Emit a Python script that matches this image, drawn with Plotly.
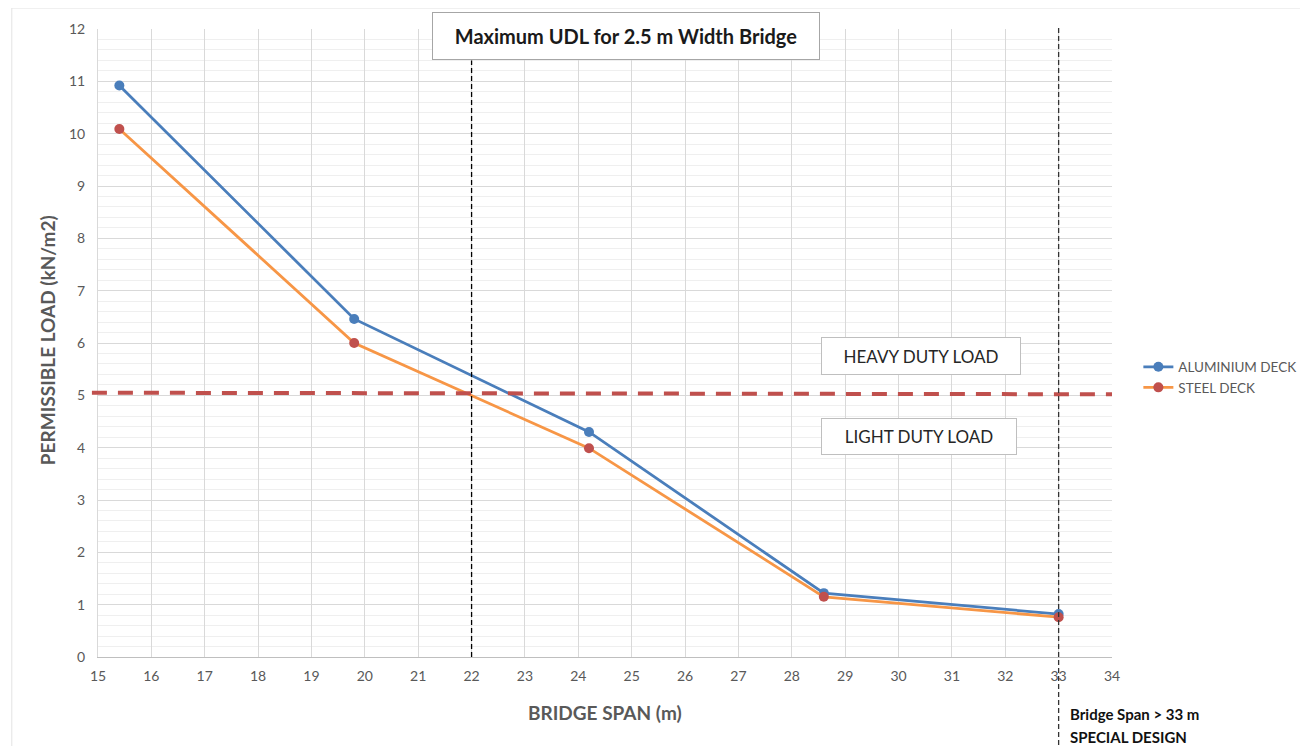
import plotly.graph_objects as go

# ---- data ----
span = [15.4, 19.8, 24.2, 28.6, 33.0]
aluminium = [10.92, 6.46, 4.30, 1.22, 0.82]
steel = [10.09, 6.00, 3.99, 1.15, 0.76]
series_names = ["ALUMINIUM DECK", "STEEL DECK"]
x_ticks = list(range(15, 35))
y_ticks = list(range(0, 13))
duty_threshold = 5.05
span_limit_low = 22
span_limit_high = 33

FONT = "Lato, 'Open Sans', sans-serif"
GREY = "#595959"

fig = go.Figure()
fig.add_trace(go.Scatter(
    x=span, y=aluminium, name=series_names[0], mode="lines+markers",
    line=dict(color="#4a7ebb", width=2.8),
    marker=dict(color="#4a7ebb", size=10),
))
fig.add_trace(go.Scatter(
    x=span, y=steel, name=series_names[1], mode="lines+markers",
    line=dict(color="#f79646", width=2.8),
    marker=dict(color="#c0504d", size=10),
))

# reference lines
fig.add_shape(type="line", xref="paper", yref="y", x0=-0.006, x1=1.0,
              y0=duty_threshold, y1=duty_threshold - 0.03,
              line=dict(color="#c0504d", width=4, dash="15px,11px"), layer="above")
fig.add_shape(type="line", xref="x", yref="y", x0=span_limit_low, x1=span_limit_low,
              y0=0, y1=11.4, line=dict(color="black", width=1.3, dash="5px,3px"))
fig.add_shape(type="line", xref="x", yref="paper", x0=span_limit_high, x1=span_limit_high,
              y0=-0.14, y1=1.006, line=dict(color="#333333", width=1.3, dash="5px,3px"))

# chart-area border (faint)
fig.add_shape(type="line", xref="paper", yref="paper", x0=-0.085, x1=1.2,
              y0=1.0334, y1=1.0334, line=dict(color="#e3e3e3", width=1))
fig.add_shape(type="line", xref="paper", yref="paper", x0=-0.085, x1=-0.085,
              y0=-0.15, y1=1.0334, line=dict(color="#e3e3e3", width=1))

# text boxes
fig.add_annotation(text="<b>Maximum UDL for 2.5 m Width Bridge</b>",
                   xref="paper", yref="paper", x=0.521, y=0.989,
                   xanchor="center", yanchor="middle", showarrow=False,
                   font=dict(family=FONT, size=20, color="#1a1a1a"),
                   bgcolor="white", bordercolor="#a6a6a6", borderwidth=1,
                   width=378, height=38, borderpad=4)
fig.add_annotation(text="HEAVY DUTY LOAD", xref="x", yref="y", x=30.43, y=5.75,
                   xanchor="center", yanchor="middle",
                   showarrow=False, font=dict(family=FONT, size=17, color="#262626"),
                   bgcolor="white", bordercolor="#bfbfbf", borderwidth=1,
                   width=192, height=30, borderpad=3)
fig.add_annotation(text="LIGHT DUTY LOAD", xref="x", yref="y", x=30.38, y=4.22,
                   xanchor="center", yanchor="middle",
                   showarrow=False, font=dict(family=FONT, size=17, color="#262626"),
                   bgcolor="white", bordercolor="#bfbfbf", borderwidth=1,
                   width=188, height=29, borderpad=3)

# axis titles
fig.add_annotation(text="<b>PERMISSIBLE LOAD (kN/m2)</b>", xref="paper", yref="paper",
                   x=-0.049, y=0.505, textangle=-90, showarrow=False,
                   xanchor="center", yanchor="middle",
                   font=dict(family=FONT, size=19, color=GREY))
fig.add_annotation(text="<b>BRIDGE SPAN (m)</b>", xref="paper", yref="paper",
                   x=0.5, y=-0.089, showarrow=False,
                   xanchor="center", yanchor="middle",
                   font=dict(family=FONT, size=19, color=GREY))
fig.add_annotation(text="<b>Bridge Span &gt; 33 m</b>", xref="paper", yref="paper",
                   x=0.957, y=-0.091, xanchor="left", yanchor="middle", showarrow=False,
                   font=dict(family=FONT, size=15, color="#111111"))
fig.add_annotation(text="<b>SPECIAL DESIGN</b>", xref="paper", yref="paper",
                   x=0.957, y=-0.128, xanchor="left", yanchor="middle", showarrow=False,
                   font=dict(family=FONT, size=15, color="#111111"))

fig.update_layout(
    width=1300, height=738,
    margin=dict(l=90, r=196, t=21, b=89, autoexpand=False),
    paper_bgcolor="white", plot_bgcolor="white",
    font=dict(family=FONT, size=13, color=GREY),
    showlegend=True,
    legend=dict(x=1.026, y=0.445, xanchor="left", yanchor="middle",
                font=dict(family=FONT, size=13.5, color=GREY),
                bgcolor="rgba(0,0,0,0)", itemwidth=30, tracegroupgap=4),
)
fig.update_xaxes(range=[15, 34], tickvals=x_ticks, ticktext=[str(v) for v in x_ticks],
                 showgrid=True, gridcolor="#d9d9d9", gridwidth=1,
                 showline=True, linecolor="#bfbfbf", linewidth=1,
                 ticks="outside", ticklen=6, tickcolor="rgba(0,0,0,0)",
                 zeroline=False, tickfont=dict(size=14, color=GREY))
fig.update_yaxes(range=[0, 12], tickvals=y_ticks, ticktext=[str(v) for v in y_ticks],
                 showgrid=True, gridcolor="#d9d9d9", gridwidth=1,
                 minor=dict(dtick=0.2, showgrid=True, gridcolor="#efefef", gridwidth=1),
                 showline=True, linecolor="#d9d9d9", linewidth=1,
                 ticks="outside", ticklen=9, tickcolor="rgba(0,0,0,0)",
                 zeroline=False, tickfont=dict(size=14, color=GREY))

fig.write_html("out.html")
